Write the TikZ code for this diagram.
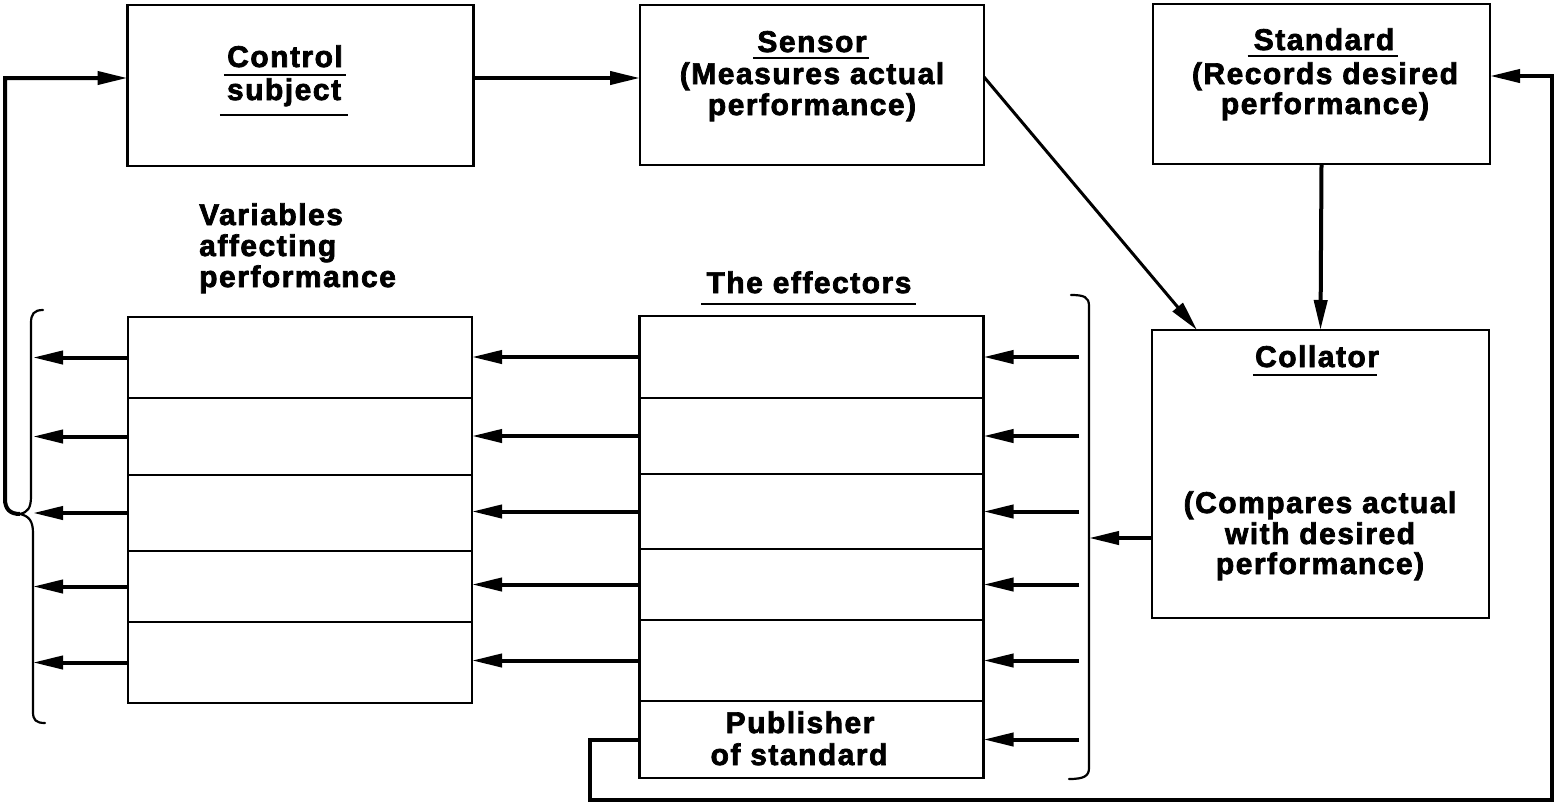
\documentclass[tikz,border=0pt]{standalone}
\usepackage{fontspec}
\setmainfont{Liberation Sans}
\newfontfamily\lblfont{Liberation Sans Bold}[LetterSpace=5, FakeBold=2.4]
\usetikzlibrary{arrows.meta,calc}

\tikzset{
  box/.style={draw, line width=2.4pt, inner sep=0pt, outer sep=0pt},
  cell/.style={box, minimum width=344pt},
  lbl/.style={font=\lblfont\fontsize{30}{33}\selectfont, inner sep=0pt, anchor=base},
  uline/.style={line width=2.4pt},
  conn/.style={line width=4pt},
  arr/.style={conn, -{Triangle[length=30pt,width=13pt]}},
  thinarr/.style={line width=3pt, -{Triangle[length=30pt,width=13pt]}},
  brace/.style={line width=2.2pt, line cap=round}
}

\begin{document}
\begin{tikzpicture}[x=1pt,y=-1pt]
\useasboundingbox[fill=white] (0,0) rectangle (1554,804);

% top row of boxes
\node[box, minimum width=346pt, minimum height=161pt] (ctl) at (300.5,85.5) {};
\node[box, minimum width=344pt, minimum height=160pt] (sen) at (812,85) {};
\node[box, minimum width=337pt, minimum height=160pt] (std) at (1321.5,84) {};
\node[box, minimum width=337pt, minimum height=288pt] (col) at (1320.5,474) {};

% stack of variables
\foreach \i/\t/\b in {1/317/398, 2/398/475, 3/475/551, 4/551/622, 5/622/703}
  \node[cell, minimum height={\b-\t}] (v\i) at (300,{(\t+\b)/2}) {};

% stack of effectors
\foreach \i/\t/\b in {1/316/398, 2/398/474, 3/474/549, 4/549/620, 5/620/701, 6/701/778}
  \node[cell, minimum height={\b-\t}] (e\i) at (811.5,{(\t+\b)/2}) {};

% labels
\node[lbl] (tctl1) at (285,67) {Control};
\node[lbl] (tctl2) at (284,100) {subject};
\draw[uline] ([xshift=-3pt,yshift=-8pt]tctl1.base west) -- ([xshift=3pt,yshift=-8pt]tctl1.base east);
\draw[uline] ([xshift=-7pt,yshift=-15pt]tctl2.base west) -- ([xshift=7pt,yshift=-15pt]tctl2.base east);

\node[lbl] (tsen1) at (812,52) {Sensor};
\node[lbl] (tsen2) at (812,84) {(Measures actual};
\node[lbl] (tsen3) at (812,115) {performance)};
\draw[uline] ([xshift=-4pt,yshift=-6pt]tsen1.base west) -- ([xshift=2pt,yshift=-6pt]tsen1.base east);

\node[lbl] (tstd1) at (1324,50) {Standard};
\node[lbl] (tstd2) at (1325,84) {(Records desired};
\node[lbl] (tstd3) at (1325,114) {performance)};
\draw[uline] ([xshift=-6pt,yshift=-6pt]tstd1.base west) -- ([xshift=4pt,yshift=-6pt]tstd1.base east);

\node[lbl] (tcol1) at (1317,367) {Collator};
\node[lbl] (tcol2) at (1320,513) {(Compares actual};
\node[lbl] (tcol3) at (1320,544) {with desired};
\node[lbl] (tcol4) at (1320,574) {performance)};
\draw[uline] ([xshift=-2pt,yshift=-8pt]tcol1.base west) -- ([xshift=-2pt,yshift=-8pt]tcol1.base east);

\node[lbl, anchor=base west] (tvar1) at (199,225) {Variables};
\node[lbl, anchor=base west] (tvar2) at (199,256) {affecting};
\node[lbl, anchor=base west] (tvar3) at (199,287) {performance};

\node[lbl] (teff) at (809,293) {The effectors};
\draw[uline] ([xshift=-5pt,yshift=-11pt]teff.base west) -- ([xshift=4pt,yshift=-11pt]teff.base east);

\node[lbl] (tpub1) at (800,733) {Publisher};
\node[lbl] (tpub2) at (799,765) {of standard};

% reference heights and bracket positions
\coordinate (ya) at (0,78);
\coordinate (yb) at (0,76);
\coordinate (yc) at (0,538);
\coordinate (rb) at (1089,0);
\coordinate (rs) at (1079,0);
\coordinate (lbt) at (20,514);

% left brace gathering the variables
\draw[brace] (43,310) .. controls (34,310) and (31,314) .. (31,323) -- (31,496)
  .. controls (31,508) and (28,512) .. (lbt)
  .. controls (29,516) and (33,521) .. (33,533) -- (33,712)
  .. controls (33,720) and (36,723) .. (45,723);

% right bracket spanning the effectors
\draw[brace] (1071,295) .. controls (1084,295) and (1089,297) .. (1089,306) -- (1089,768)
  .. controls (1089,776) and (1084,779) .. (1069,779);

% feedback from the variables back to the control subject
\draw[conn, -{Triangle[length=30pt,width=13pt]}] (lbt) .. controls (10,514) and (5,509) .. (5,499)
  -- (5,78) -- (ctl.west |- ya);

% main chain
\draw[arr] (ctl.east |- ya) -- (sen.west |- ya);
\draw[thinarr] ($(sen.east |- ya)+(0,-1)$) -- ($(col.north west)+(45,0)$);
\draw[arr] (std.south) -- (col.north);
\draw[arr] (col.west |- yc) -- (rb |- yc);

% effectors drive the variables
\foreach \i in {1,...,5}
  \draw[arr] (e\i.west) -- (e\i.west -| v\i.east);
\foreach \i in {1,...,5}
  \draw[arr] (v\i.west) -- ($(v\i.west -| lbt)+(13,0)$);

% bracket feeds every effector
\foreach \i in {1,...,6}
  \draw[arr] (e\i.east -| rs) -- (e\i.east);

% publisher of standard loops back to the standard
\draw[conn, -{Triangle[length=30pt,width=13pt]}] (e6.west) -- (590,739.5) -- (590,800) -- (1552,800)
  -- (1552,76) -- (std.east |- yb);
\end{tikzpicture}
\end{document}
